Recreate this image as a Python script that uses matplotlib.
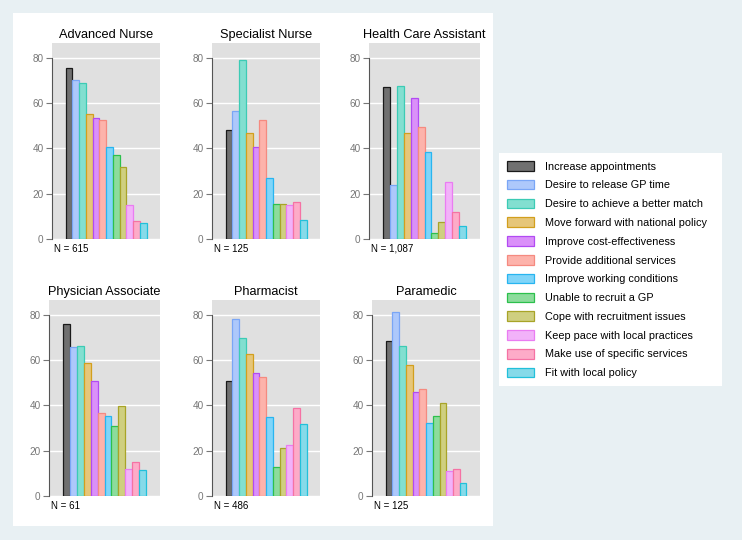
import numpy as np
import matplotlib.pyplot as plt
from matplotlib.patches import Rectangle, Patch

plt.rcParams["font.family"] = ["Liberation Sans", "DejaVu Sans"]

# ------------------------------------------------------------
# Data (percent of respondents citing each reason)
# ------------------------------------------------------------
reasons = [
    "Increase appointments",
    "Desire to release GP time",
    "Desire to achieve a better match",
    "Move forward with national policy",
    "Improve cost-effectiveness",
    "Provide additional services",
    "Improve working conditions",
    "Unable to recruit a GP",
    "Cope with recruitment issues",
    "Keep pace with local practices",
    "Make use of specific services",
    "Fit with local policy",
]

roles = ["Advanced Nurse", "Specialist Nurse", "Health Care Assistant",
         "Physician Associate", "Pharmacist", "Paramedic"]
n_labels = ["N = 615", "N = 125", "N = 1,087", "N = 61", "N = 486", "N = 125"]

advanced_nurse = [75.4, 70.0, 68.8, 55.0, 53.4, 52.4, 40.7, 37.2, 31.6, 14.9, 7.9, 7.1]
specialist_nurse = [48.2, 56.6, 78.8, 46.6, 40.6, 52.4, 27.1, 15.3, 15.3, 15.0, 16.3, 8.4]
health_care_assistant = [67.2, 23.7, 67.4, 46.9, 62.2, 49.6, 38.2, 2.5, 7.6, 25.0, 11.9, 5.7]
physician_associate = [75.7, 65.9, 66.3, 58.5, 50.9, 36.8, 35.3, 30.9, 39.7, 12.1, 14.9, 11.6]
pharmacist = [50.9, 78.2, 69.9, 62.6, 54.4, 52.6, 35.0, 12.8, 21.0, 22.4, 39.0, 31.6]
paramedic = [68.5, 81.0, 66.2, 57.8, 46.0, 47.4, 32.4, 35.4, 41.0, 11.2, 12.1, 5.6]

values = [advanced_nurse, specialist_nurse, health_care_assistant,
          physician_associate, pharmacist, paramedic]

# ------------------------------------------------------------
# Styles
# ------------------------------------------------------------
fills = ["#707070", "#adc8fb", "#82dfd0", "#e6c679", "#da90f9", "#fdb3ab",
         "#80d5f9", "#8cdc9c", "#cfcf80", "#f2b2f9", "#fdabc8", "#86dae9"]
edges = ["#1a1a1a", "#7aa6f6", "#3ccbb5", "#d29f1d", "#b24af3", "#f58a80",
         "#28b5f0", "#2cc04c", "#a8a428", "#ea7cf2", "#f572a4", "#22c0da"]

W, H = 742, 540
fig = plt.figure(figsize=(W / 100, H / 100), dpi=100, facecolor="#e8f0f3")


def px_rect(x0, y0, x1, y1):
    # pixel box (from top-left) -> figure fraction [left, bottom, w, h]
    return [x0 / W, 1 - y1 / H, (x1 - x0) / W, (y1 - y0) / H]


# white panels behind the plots and the legend
for (x0, y0, x1, y1) in [(13, 13, 493, 526), (499, 153, 722, 386)]:
    l, b, w, h = px_rect(x0, y0, x1, y1)
    fig.patches.append(Rectangle((l, b), w, h, transform=fig.transFigure,
                                 facecolor="white", edgecolor="none", zorder=-10))

boxes = [(52, 43, 160, 239), (212, 43, 320, 239), (369, 43, 480, 239),
         (49, 300, 160, 496), (212, 300, 320, 496), (372, 300, 480, 496)]

x = np.arange(len(reasons))
for role, vals, nlab, box in zip(roles, values, n_labels, boxes):
    ax = fig.add_axes(px_rect(*box))
    ax.set_facecolor("#e0e0e0")
    ax.bar(x, vals, width=1.0, color=fills, edgecolor=edges, linewidth=0.9, zorder=3)
    ax.set_xlim(-2.5, 13.5)
    ax.set_ylim(0, 86.5)
    ax.set_yticks([0, 20, 40, 60, 80])
    ax.set_xticks([])
    ax.yaxis.grid(True, color="white", linewidth=1.0, zorder=0)
    ax.set_axisbelow(True)
    for s in ["top", "right", "bottom"]:
        ax.spines[s].set_visible(False)
    ax.spines["left"].set_bounds(0, 80)
    ax.spines["left"].set_color("#555555")
    ax.spines["left"].set_linewidth(0.8)
    ax.tick_params(axis="y", direction="out", length=4, width=0.8,
                   color="#777777", labelcolor="#777777", labelsize=7.2, pad=2)
    ax.set_title(role, fontsize=9.2, color="black", pad=3.5)
    ax.text(0.02, -0.05, nlab, transform=ax.transAxes, fontsize=7,
            ha="left", va="center")

handles = [Patch(facecolor=f, edgecolor=e, linewidth=0.9) for f, e in zip(fills, edges)]
fig.legend(handles, reasons, loc="upper left", bbox_to_anchor=(507 / W, 1 - 161 / H),
           frameon=False, fontsize=7.8, handlelength=2.5, handleheight=1.0,
           labelspacing=0.76, handletextpad=1.0, borderaxespad=0, borderpad=0)

fig.savefig("out.png", dpi=100, facecolor=fig.get_facecolor())
